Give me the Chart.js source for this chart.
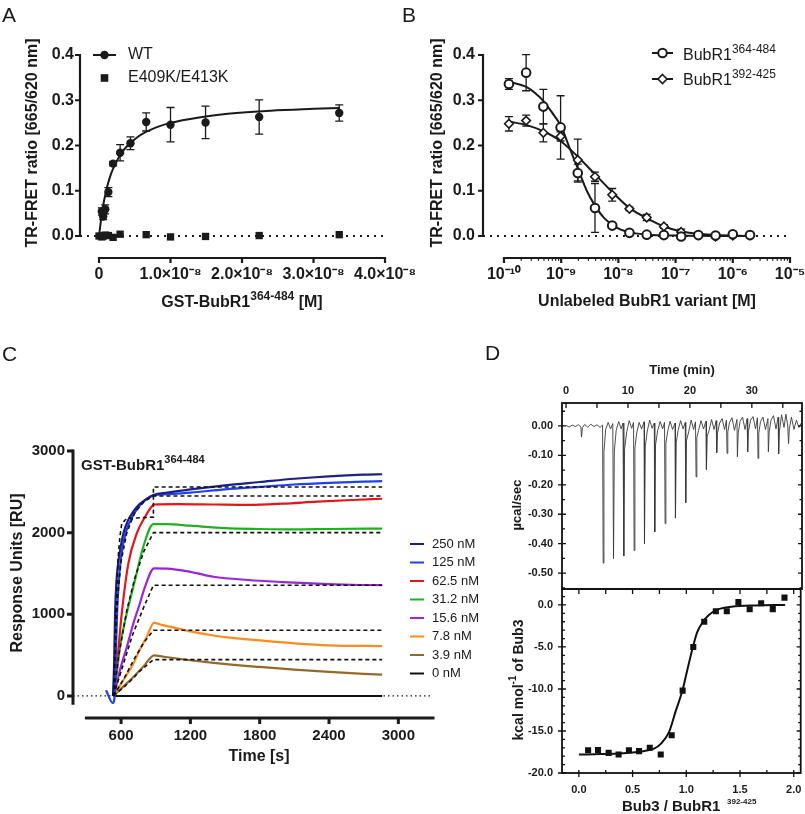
<!DOCTYPE html>
<html>
<head>
<meta charset="utf-8">
<script src="https://cdn.jsdelivr.net/npm/chart.js@4.4.0/dist/chart.umd.min.js"></script>
<style>
body { margin: 0; background: #fff; }
#wrap { position: relative; width: 805px; height: 814px; }
canvas { position: absolute; left: 0; top: 0; }
</style>
</head>
<body>
<div id="wrap">
<canvas id="cA" width="805" height="814"></canvas>
<canvas id="cB" width="805" height="814"></canvas>
<canvas id="cC" width="805" height="814"></canvas>
<canvas id="cD1" width="805" height="814"></canvas>
<canvas id="cD2" width="805" height="814"></canvas>
</div>
<script>
// ---------- panel A : TR-FRET titration ----------
var wtConc   = [0.39e-9, 0.58e-9, 0.87e-9, 1.31e-9, 1.97e-9, 2.95e-9, 4.4e-9, 6.6e-9, 1.0e-8, 1.49e-8, 2.24e-8, 3.36e-8];
var wtRatio  = [0.054, 0.043, 0.059, 0.097, 0.160, 0.184, 0.205, 0.252, 0.246, 0.251, 0.263, 0.272];
var wtSd     = [0.008, 0.007, 0.010, 0.010, 0.005, 0.018, 0.014, 0.020, 0.038, 0.036, 0.038, 0.018];
var mutConc  = [0, 0.39e-9, 0.58e-9, 0.87e-9, 1.31e-9, 1.97e-9, 2.95e-9, 6.6e-9, 1.0e-8, 1.49e-8, 2.24e-8, 3.36e-8];
var mutRatio = [0.0, -0.002, 0.0, 0.002, 0.001, -0.003, 0.004, 0.003, -0.002, -0.001, 0.001, 0.003];
var fitAx    = [0, 0.25e-9, 0.5e-9, 1e-9, 1.5e-9, 2e-9, 3e-9, 4e-9, 5e-9, 6e-9, 8e-9, 1e-8, 1.4e-8, 1.8e-8, 2.4e-8, 3.0e-8, 3.36e-8];
var fitAy    = [0, 0.032, 0.060, 0.100, 0.129, 0.150, 0.180, 0.200, 0.214, 0.225, 0.240, 0.250, 0.262, 0.270, 0.277, 0.281, 0.283];
var xTicksA  = [0, 1e-8, 2e-8, 3e-8, 4e-8];
var xLabelsA = ['0', '1.0×10⁻⁸', '2.0×10⁻⁸', '3.0×10⁻⁸', '4.0×10⁻⁸'];
var yTicksAB = [0, 0.1, 0.2, 0.3, 0.4];
var yLabelsAB = ['0.0', '0.1', '0.2', '0.3', '0.4'];

// ---------- panel B : competition ----------
var bConc     = [1.22e-10, 2.44e-10, 4.88e-10, 9.77e-10, 1.95e-9, 3.9e-9, 7.8e-9, 1.56e-8, 3.13e-8, 6.25e-8, 1.25e-7, 2.5e-7, 5e-7, 1e-6, 2e-6];
var long364   = [0.336, 0.361, 0.286, 0.240, 0.139, 0.062, 0.023, 0.007, 0.003, 0.002, -0.001, 0.002, 0.001, 0.004, 0.002];
var long364Sd = [0.012, 0.040, 0.038, 0.070, 0.020, 0.054, 0.004, 0.003, 0.002, 0.002, 0.006, 0.003, 0.002, 0.003, 0.002];
var short392  = [0.248, 0.255, 0.228, 0.220, 0.168, 0.131, 0.091, 0.060, 0.041, 0.021, 0.009, 0.002, -0.001, 0.001, 0.002];
var short392Sd = [0.016, 0.012, 0.020, 0.010, 0.046, 0.010, 0.014, 0.004, 0.007, 0.004, 0.006, 0.002, 0.002, 0.002, 0.002];
var fitLongX  = [1.22e-10, 2.5e-10, 3.5e-10, 5e-10, 7e-10, 1e-9, 1.4e-9, 2e-9, 2.8e-9, 4e-9, 5.6e-9, 8e-9, 1.1e-8, 1.6e-8, 3.2e-8, 1e-7, 2e-6];
var fitLongY  = [0.341, 0.329, 0.316, 0.297, 0.272, 0.242, 0.195, 0.146, 0.100, 0.065, 0.040, 0.024, 0.014, 0.008, 0.003, 0.001, 0.0];
var fitShortX = [1.22e-10, 2.5e-10, 5e-10, 1e-9, 2e-9, 4e-9, 8e-9, 1.6e-8, 3.2e-8, 6.3e-8, 1.26e-7, 2.5e-7, 5e-7, 2e-6];
var fitShortY = [0.253, 0.245, 0.231, 0.209, 0.174, 0.135, 0.096, 0.061, 0.039, 0.021, 0.010, 0.005, 0.002, 0.0];
var xTicksB   = [1e-10, 1e-9, 1e-8, 1e-7, 1e-6, 1e-5];
var xLabelsB  = ['10⁻¹⁰', '10⁻⁹', '10⁻⁸', '10⁻⁷', '10⁻⁶', '10⁻⁵'];

// ---------- panel C : SPR sensorgrams [time s, RU] ----------
var spr250 = [[530,0],[540,400],[548,1000],[560,1400],[577,1650],[600,1850],[620,1990],[660,2150],[707,2260],[760,2350],[808,2400],[880,2460],[1000,2490],[1200,2530],[1500,2580],[1800,2620],[2100,2660],[2400,2690],[2700,2710],[2860,2715]];
var spr125 = [[470,70],[528,-85],[545,0],[555,500],[565,1000],[580,1400],[600,1700],[640,2000],[700,2200],[760,2330],[820,2410],[880,2455],[1000,2470],[1200,2490],[1500,2530],[1800,2560],[2100,2590],[2400,2610],[2700,2625],[2860,2630]];
var spr62  = [[534,0],[545,150],[563,360],[606,1010],[663,1620],[736,1990],[808,2195],[875,2335],[885,2345],[1100,2350],[1400,2345],[1700,2340],[2000,2355],[2300,2380],[2600,2400],[2860,2415]];
var spr31  = [[534,0],[560,250],[591,600],[649,1010],[721,1420],[793,1830],[880,2105],[1000,2105],[1200,2085],[1500,2055],[1800,2045],[2100,2040],[2400,2045],[2860,2050]];
var spr15  = [[534,0],[560,130],[591,320],[650,600],[707,890],[760,1120],[808,1340],[886,1563],[1000,1560],[1200,1520],[1400,1460],[1700,1420],[2000,1395],[2300,1375],[2600,1362],[2860,1358]];
var spr7   = [[534,0],[600,150],[650,260],[707,396],[760,560],[820,720],[886,894],[950,870],[1050,840],[1200,790],[1400,740],[1600,705],[1800,680],[2100,645],[2400,620],[2860,610]];
var spr3   = [[534,0],[600,90],[707,233],[800,370],[886,498],[950,485],[1050,465],[1200,437],[1400,405],[1600,378],[1800,355],[2100,323],[2400,294],[2700,270],[2860,261]];
var spr0   = [[534,0],[2860,0]];
var fit250 = [[534,0],[545,500],[560,1200],[575,1700],[590,1950],[606,2110],[649,2175],[880,2190],[880,2560],[2860,2560]];
var fit125 = [[534,0],[550,600],[570,1200],[600,1650],[650,2000],[720,2250],[800,2380],[880,2449],[2860,2449]];
var fit31  = [[534,0],[580,500],[650,1050],[720,1450],[800,1780],[880,2000],[2860,2000]];
var fit15  = [[534,0],[600,300],[700,750],[800,1100],[880,1355],[2860,1355]];
var fit7   = [[534,0],[620,200],[720,470],[800,660],[880,804],[2860,804]];
var fit3   = [[534,0],[650,140],[760,300],[880,445],[2860,445]];
var concLabels = ['250 nM', '125 nM', '62.5 nM', '31.2 nM', '15.6 nM', '7.8 nM', '3.9 nM', '0 nM'];
var concColors = ['#1b1f8a', '#1f3ff0', '#e3161b', '#22b022', '#9b25d9', '#ff8c1a', '#946a2c', '#111111'];
var xTicksC  = [600, 1200, 1800, 2400, 3000];
var xLabelsC = ['600', '1200', '1800', '2400', '3000'];
var yTicksC  = [0, 1000, 2000, 3000];
var yLabelsC = ['0', '1000', '2000', '3000'];

// ---------- panel D : ITC [min, ucal/s] ----------
var itcRaw = [[0,0.002],[0.5,-0.004],[1,0.003],[1.5,-0.002],[2,0.004],[2.4,-0.003],[2.5,-0.038],[2.65,-0.006],[3,0.005],[3.5,-0.004],[4,0.006],[4.5,-0.002],[5,0.004],[5.5,-0.005],[5.9,0.003],
 [6.0,-0.466],[6.12,-0.09],[6.4,-0.012],[6.8,0.012],[7.2,-0.01],[7.55,0.008],
 [7.67,-0.451],[7.8,-0.085],[8.1,-0.015],[8.5,0.015],[8.9,-0.01],[9.2,0.01],
 [9.33,-0.442],[9.45,-0.08],[9.8,-0.02],[10.2,0.018],[10.6,-0.008],[10.9,0.012],
 [11.0,-0.423],[11.12,-0.075],[11.4,-0.025],[11.8,0.012],[12.2,-0.01],[12.6,0.014],
 [12.67,-0.40],[12.8,-0.07],[13.1,-0.02],[13.5,0.02],[13.9,-0.008],[14.25,0.01],
 [14.33,-0.36],[14.45,-0.065],[14.8,-0.015],[15.2,0.015],[15.6,-0.01],[15.9,0.012],
 [16.0,-0.332],[16.12,-0.06],[16.4,-0.02],[16.8,0.016],[17.2,-0.012],[17.6,0.01],
 [17.67,-0.313],[17.8,-0.055],[18.1,-0.015],[18.5,0.018],[18.9,-0.01],[19.25,0.012],
 [19.33,-0.261],[19.45,-0.05],[19.8,-0.02],[20.2,0.02],[20.6,-0.012],[20.9,0.014],
 [21.0,-0.173],[21.12,-0.04],[21.4,-0.015],[21.8,0.018],[22.2,-0.01],[22.6,0.016],
 [22.67,-0.148],[22.8,-0.035],[23.1,-0.015],[23.5,0.022],[23.9,-0.012],[24.25,0.018],
 [24.33,-0.091],[24.45,-0.025],[24.8,0.01],[25.2,0.025],[25.6,-0.012],[25.9,0.02],
 [26.0,-0.093],[26.12,-0.02],[26.4,0.012],[26.8,0.028],[27.2,-0.015],[27.6,0.022],
 [27.67,-0.105],[27.8,-0.025],[28.1,0.015],[28.5,0.03],[28.9,-0.012],[29.25,0.025],
 [29.33,-0.088],[29.45,-0.02],[29.8,0.02],[30.2,0.032],[30.6,-0.01],[30.9,0.028],
 [31.0,-0.11],[31.12,-0.025],[31.4,0.015],[31.8,0.03],[32.2,-0.012],[32.6,0.025],
 [32.67,-0.088],[32.8,-0.02],[33.1,0.02],[33.5,0.035],[33.9,-0.01],[34.25,0.03],
 [34.33,-0.095],[34.45,-0.02],[34.8,0.038],[35.2,-0.005],[35.5,0.04],[35.8,0.0],
 [35.93,-0.06],[36.05,-0.01],[36.4,0.03],[36.8,-0.012],[37.2,0.02],[37.6,-0.005],[38,0.01]];
var ratioD = [0.086, 0.178, 0.277, 0.37, 0.466, 0.56, 0.66, 0.762, 0.864, 0.966, 1.065, 1.167, 1.275, 1.377, 1.485, 1.59, 1.697, 1.805, 1.914];
var heatD  = [-17.3, -17.26, -17.6, -17.8, -17.3, -17.4, -17.0, -17.8, -15.5, -10.2, -5.0, -2.0, -0.75, -0.75, 0.36, -0.52, 0.2, -0.5, 0.87];
var fitDx  = [0, 0.2, 0.4, 0.6, 0.7, 0.765, 0.84, 0.9, 0.966, 1.01, 1.06, 1.1, 1.15, 1.21, 1.3, 1.42, 1.64, 1.92];
var fitDy  = [-17.8, -17.75, -17.65, -17.4, -17.1, -16.5, -15.1, -12.7, -10.1, -7.7, -5.1, -3.3, -2.1, -1.2, -0.5, -0.2, -0.05, 0.0];
var xTicksD1 = [0, 10, 20, 30];
var xLabelsD1 = ['0', '10', '20', '30'];
var yTicksD1 = [0, -0.1, -0.2, -0.3, -0.4, -0.5];
var yLabelsD1 = ['0.00', '-0.10', '-0.20', '-0.30', '-0.40', '-0.50'];
var xTicksD2 = [0, 0.5, 1.0, 1.5, 2.0];
var xLabelsD2 = ['0.0', '0.5', '1.0', '1.5', '2.0'];
var yTicksD2 = [0, -5, -10, -15, -20];
var yLabelsD2 = ['0.0', '-5.0', '-10.0', '-15.0', '-20.0'];

var FONT = 'Arial, "Liberation Sans", Helvetica, sans-serif';
var INK = '#1a1a1a';

function xy(xs, ys) { return xs.map(function (x, i) { return { x: x, y: ys[i] }; }); }
function pairs(p) { return p.map(function (q) { return { x: q[0], y: q[1] }; }); }

function axis(o) {
    return {
        type: o.type || 'linear', position: o.position, min: o.min, max: o.max,
        grid: { display: false, drawTicks: false }, border: { display: false },
        afterBuildTicks: function (s) { s.ticks = o.ticks.map(function (v) { return { value: v }; }); },
        afterFit: function (s) {
            if (s.isHorizontal()) s.height = o.size; else s.width = o.size;
            s.paddingLeft = 0; s.paddingRight = 0; s.paddingTop = 0; s.paddingBottom = 0;
        },
        ticks: {
            padding: o.pad, autoSkip: false, maxRotation: 0, minRotation: 0, color: INK,
            font: { family: FONT, size: o.fs, weight: 'bold' },
            callback: function (v, i) { return o.labels[i]; }
        }
    };
}

// GraphPad style detached axes
var gpAxes = {
    id: 'gpAxes',
    afterDraw: function (chart, args, o) {
        if (!o.on) return;
        var ctx = chart.ctx, a = chart.chartArea, x = chart.scales.x, y = chart.scales.y;
        ctx.save();
        ctx.strokeStyle = INK; ctx.lineWidth = o.lw; ctx.lineCap = 'square';
        ctx.beginPath();
        ctx.moveTo(a.left, y.getPixelForValue(o.yFrom)); ctx.lineTo(a.left, y.getPixelForValue(o.yTo));
        ctx.moveTo(x.getPixelForValue(o.xFrom), a.bottom); ctx.lineTo(x.getPixelForValue(o.xTo), a.bottom);
        ctx.stroke();
        ctx.lineCap = 'butt';
        ctx.beginPath();
        o.yTicks.forEach(function (v) { var p = y.getPixelForValue(v); ctx.moveTo(a.left, p); ctx.lineTo(a.left - o.tl, p); });
        o.xTicks.forEach(function (v) { var p = x.getPixelForValue(v); ctx.moveTo(p, a.bottom); ctx.lineTo(p, a.bottom + o.tl); });
        ctx.stroke();
        if (o.xMinor) {
            ctx.lineWidth = 1.2;
            ctx.beginPath();
            o.xMinor.forEach(function (v) { var p = x.getPixelForValue(v); ctx.moveTo(p, a.bottom); ctx.lineTo(p, a.bottom + o.tl * 0.55); });
            ctx.stroke();
        }
        ctx.restore();
    }
};

var errBars = {
    id: 'errBars',
    beforeDatasetsDraw: function (chart) {
        var ctx = chart.ctx, x = chart.scales.x, y = chart.scales.y;
        chart.data.datasets.forEach(function (ds) {
            if (!ds.err) return;
            ctx.save();
            ctx.strokeStyle = INK; ctx.lineWidth = 1.3;
            ds.data.forEach(function (p, i) {
                var e = ds.err[i];
                if (!e) return;
                var px = x.getPixelForValue(p.x), y1 = y.getPixelForValue(p.y - e), y2 = y.getPixelForValue(p.y + e);
                ctx.beginPath();
                ctx.moveTo(px, y1); ctx.lineTo(px, y2);
                ctx.moveTo(px - 4, y1); ctx.lineTo(px + 4, y1);
                ctx.moveTo(px - 4, y2); ctx.lineTo(px + 4, y2);
                ctx.stroke();
            });
            ctx.restore();
        });
    }
};

// Origin style framed box with ticks
var frameBox = {
    id: 'frameBox',
    afterDraw: function (chart, args, o) {
        if (!o.on) return;
        var ctx = chart.ctx, a = chart.chartArea, x = chart.scales.x, y = chart.scales.y;
        ctx.save();
        ctx.strokeStyle = '#111'; ctx.lineWidth = 1.8;
        ctx.strokeRect(a.left, a.top, a.right - a.left, a.bottom - a.top);
        ctx.lineWidth = 1.3;
        ctx.beginPath();
        o.topTicks.forEach(function (v) { var p = x.getPixelForValue(v); ctx.moveTo(p, a.top); ctx.lineTo(p, a.top + 5); });
        (o.bottomOut || []).forEach(function (v) { var p = x.getPixelForValue(v); ctx.moveTo(p, a.bottom); ctx.lineTo(p, a.bottom + 4); });
        (o.bottomIn || []).forEach(function (v) { var p = x.getPixelForValue(v); ctx.moveTo(p, a.bottom); ctx.lineTo(p, a.bottom - 3); });
        o.yMajor.forEach(function (v) {
            var p = y.getPixelForValue(v);
            ctx.moveTo(a.left - 4, p); ctx.lineTo(a.left + 4, p);
            ctx.moveTo(a.right, p); ctx.lineTo(a.right - 4, p);
        });
        o.yMinor.forEach(function (v) {
            var p = y.getPixelForValue(v);
            ctx.moveTo(a.left, p); ctx.lineTo(a.left + 3, p);
            ctx.moveTo(a.right, p); ctx.lineTo(a.right - 2.5, p);
        });
        ctx.stroke();
        ctx.restore();
    }
};

function drawRich(ctx, t) {
    var w = 0, size = t.size, sub = Math.round(size * (t.supScale || 0.72));
    var wt = t.weight || 'normal', fam = t.family || FONT;
    var fN = wt + ' ' + size + 'px ' + fam, fS = wt + ' ' + sub + 'px ' + fam;
    ctx.save();
    ctx.translate(t.x, t.y);
    if (t.rot) ctx.rotate(-Math.PI / 2);
    t.parts.forEach(function (p) { ctx.font = p[1] ? fS : fN; w += ctx.measureText(p[0]).width; });
    var x = t.align === 'center' ? -w / 2 : (t.align === 'right' ? -w : 0);
    ctx.textBaseline = 'middle';
    ctx.fillStyle = t.color || INK;
    t.parts.forEach(function (p) {
        ctx.font = p[1] ? fS : fN;
        ctx.fillText(p[0], x, p[1] ? -size * 0.38 : 0);
        x += ctx.measureText(p[0]).width;
    });
    ctx.restore();
}

var annot = {
    id: 'annot',
    afterDraw: function (chart, args, o) {
        var ctx = chart.ctx;
        (o.swatches || []).forEach(function (s) {
            ctx.save();
            if (s.line) {
                ctx.strokeStyle = s.color || INK; ctx.lineWidth = s.lw || 2;
                ctx.beginPath(); ctx.moveTo(s.line[0], s.line[2]); ctx.lineTo(s.line[1], s.line[2]); ctx.stroke();
            } else {
                ctx.fillStyle = s.fill; ctx.strokeStyle = INK; ctx.lineWidth = s.lw || 0;
                ctx.beginPath();
                if (s.pt === 'circle') ctx.arc(s.x, s.y, s.r, 0, Math.PI * 2);
                else if (s.pt === 'rect') ctx.rect(s.x - s.r, s.y - s.r, 2 * s.r, 2 * s.r);
                else { ctx.moveTo(s.x, s.y - s.r); ctx.lineTo(s.x + s.r, s.y); ctx.lineTo(s.x, s.y + s.r); ctx.lineTo(s.x - s.r, s.y); ctx.closePath(); }
                ctx.fill();
                if (s.lw) ctx.stroke();
            }
            ctx.restore();
        });
        (o.texts || []).forEach(function (t) { drawRich(ctx, t); });
    }
};

function baseOptions(pad, scales, extra) {
    var plugins = { legend: { display: false }, tooltip: { enabled: false } };
    for (var k in extra) plugins[k] = extra[k];
    return { responsive: false, animation: false, events: [], layout: { padding: pad }, scales: scales, plugins: plugins };
}

function lineDs(data, color, width, order, extra) {
    var d = { type: 'scatter', data: data, showLine: true, borderColor: color, borderWidth: width, pointRadius: 0, fill: false, order: order };
    for (var k in extra) d[k] = extra[k];
    return d;
}

// ---------------- chart A ----------------
var xMinA = -2.66e-9;
new Chart(document.getElementById('cA'), {
    type: 'scatter',
    data: { datasets: [
        { data: xy(wtConc, wtRatio), err: wtSd, pointStyle: 'circle', pointRadius: 4.2, backgroundColor: INK, borderColor: INK, borderWidth: 0, order: 1 },
        { data: xy(mutConc, mutRatio), pointStyle: 'rect', pointRadius: 5.2, backgroundColor: INK, borderColor: INK, borderWidth: 0, order: 2 },
        lineDs(xy(fitAx, fitAy), INK, 2, 3, { cubicInterpolationMode: 'monotone' }),
        lineDs(xy([xMinA, 4e-8], [0, 0]), INK, 2, 5, { borderDash: [2, 5] })
    ] },
    options: baseOptions({ left: 80 - 60, top: 55, right: 805 - 385, bottom: 814 - 258 - 30 }, {
        x: axis({ position: 'bottom', min: xMinA, max: 4e-8, ticks: xTicksA, labels: xLabelsA, size: 30, pad: 7, fs: 16 }),
        y: axis({ position: 'left', min: -0.0486, max: 0.4, ticks: yTicksAB, labels: yLabelsAB, size: 60, pad: 6, fs: 16 })
    }, {
        gpAxes: { on: true, lw: 2.2, tl: 5, yFrom: 0, yTo: 0.4, xFrom: 0, xTo: 4e-8, yTicks: yTicksAB, xTicks: xTicksA },
        annot: {
            texts: [
                { x: 2, y: 16, parts: [['A']], size: 21 },
                { x: 33, y: 143, parts: [['TR-FRET ratio [665/620 nm]']], size: 16, weight: 'bold', rot: true, align: 'center' },
                { x: 242, y: 303, parts: [['GST-BubR1'], ['364-484', 1], [' [M]']], size: 16, weight: 'bold', align: 'center' },
                { x: 128, y: 55, parts: [['WT']], size: 16 },
                { x: 128, y: 78, parts: [['E409K/E413K']], size: 16 }
            ],
            swatches: [
                { line: [93, 116, 55], lw: 2 },
                { pt: 'circle', x: 104.5, y: 55, r: 4.2, fill: INK },
                { pt: 'rect', x: 104.5, y: 78, r: 3.8, fill: INK }
            ]
        }
    }),
    plugins: [errBars, gpAxes, annot]
});

// ---------------- chart B ----------------
var xMinB = 4.3e-11;
var minorB = [];
xTicksB.slice(0, 5).forEach(function (d) { for (var m = 2; m <= 9; m++) minorB.push(d * m); });
new Chart(document.getElementById('cB'), {
    type: 'scatter',
    data: { datasets: [
        { data: xy(bConc, long364), err: long364Sd, pointStyle: 'circle', pointRadius: 4.3, backgroundColor: '#fff', borderColor: INK, borderWidth: 2, order: 1 },
        { data: xy(bConc, short392), err: short392Sd, pointStyle: 'rectRot', pointRadius: 4.3, backgroundColor: '#fff', borderColor: INK, borderWidth: 1.6, order: 2 },
        lineDs(xy(fitLongX, fitLongY), INK, 2, 3, { cubicInterpolationMode: 'monotone' }),
        lineDs(xy(fitShortX, fitShortY), INK, 2, 4, { cubicInterpolationMode: 'monotone' }),
        lineDs(xy([xMinB, 1e-5], [0, 0]), INK, 2, 6, { borderDash: [2, 5] })
    ] },
    options: baseOptions({ left: 483 - 60, top: 55, right: 805 - 790, bottom: 814 - 258 - 30 }, {
        x: axis({ type: 'logarithmic', position: 'bottom', min: xMinB, max: 1e-5, ticks: xTicksB, labels: xLabelsB, size: 30, pad: 7, fs: 16 }),
        y: axis({ position: 'left', min: -0.0486, max: 0.4, ticks: yTicksAB, labels: yLabelsAB, size: 60, pad: 8, fs: 16 })
    }, {
        gpAxes: { on: true, lw: 2.2, tl: 5, yFrom: 0, yTo: 0.4, xFrom: 1e-10, xTo: 1e-5, yTicks: yTicksAB, xTicks: xTicksB, xMinor: minorB },
        annot: {
            texts: [
                { x: 402, y: 16, parts: [['B']], size: 21 },
                { x: 438, y: 143, parts: [['TR-FRET ratio [665/620 nm]']], size: 16, weight: 'bold', rot: true, align: 'center' },
                { x: 647, y: 302, parts: [['Unlabeled BubR1 variant [M]']], size: 16, weight: 'bold', align: 'center' },
                { x: 683, y: 56, parts: [['BubR1'], ['364-484', 1]], size: 16 },
                { x: 683, y: 81, parts: [['BubR1'], ['392-425', 1]], size: 16 }
            ],
            swatches: [
                { line: [652, 673, 53], lw: 2 },
                { pt: 'circle', x: 662.5, y: 53, r: 4.3, fill: '#fff', lw: 2 },
                { line: [652, 673, 79], lw: 2 },
                { pt: 'diamond', x: 662.5, y: 79, r: 4.5, fill: '#fff', lw: 1.6 }
            ]
        }
    }),
    plugins: [errBars, gpAxes, annot]
});

// ---------------- chart C ----------------
var sprSeries = [spr250, spr125, spr62, spr31, spr15, spr7, spr3];
var fitSeries = [fit250, fit125, fit31, fit15, fit7, fit3];
var dsC = [];
fitSeries.forEach(function (f) { dsC.push(lineDs(pairs(f), '#111', 1.6, 1, { borderDash: [4, 3] })); });
sprSeries.forEach(function (s, i) { dsC.push(lineDs(pairs(s), concColors[i], 2.2, 2 + i * 0.1, { cubicInterpolationMode: 'monotone' })); });
dsC.push(lineDs(pairs(spr0), concColors[7], 2, 3));
dsC.push(lineDs(xy([184, 3300], [0, 0]), INK, 1.2, 4, { borderDash: [1.5, 3] }));
var legendC = [];
concLabels.forEach(function (l, i) {
    legendC.push({ x: 432, y: 544 + i * 18.5, parts: [[l]], size: 13, family: '"Liberation Sans Narrow", "Arial Narrow", Arial, sans-serif' });
});
var swC = concColors.map(function (c, i) { return { line: [410, 424, 544 + i * 18.5], lw: 2, color: c }; });
new Chart(document.getElementById('cC'), {
    type: 'scatter',
    data: { datasets: dsC },
    options: baseOptions({ left: 73 - 60, top: 451, right: 805 - 433, bottom: 814 - 718 - 30 }, {
        x: axis({ position: 'bottom', min: 184, max: 3300, ticks: xTicksC, labels: xLabelsC, size: 30, pad: 9, fs: 15 }),
        y: axis({ position: 'left', min: -270, max: 3000, ticks: yTicksC, labels: yLabelsC, size: 60, pad: 8, fs: 15 })
    }, {
        gpAxes: { on: true, lw: 3, tl: 6, yFrom: -90, yTo: 3000, xFrom: 300, xTo: 3300, yTicks: yTicksC, xTicks: xTicksC },
        annot: {
            texts: [
                { x: 2, y: 355, parts: [['C']], size: 21 },
                { x: 18, y: 573, parts: [['Response Units [RU]']], size: 16, weight: 'bold', rot: true, align: 'center' },
                { x: 259, y: 757, parts: [['Time [s]']], size: 16, weight: 'bold', align: 'center' },
                { x: 81, y: 466, parts: [['GST-BubR1'], ['364-484', 1]], size: 15, weight: 'bold' }
            ].concat(legendC),
            swatches: swC
        }
    }),
    plugins: [gpAxes, annot]
});

// ---------------- chart D (top: raw ITC) ----------------
var minorD1 = [];
for (var v = 0.05; v >= -0.55; v -= 0.05) minorD1.push(v);
new Chart(document.getElementById('cD1'), {
    type: 'scatter',
    data: { datasets: [lineDs(pairs(itcRaw), '#3a3a3a', 0.9, 1)] },
    options: baseOptions({ left: 562 - 50, top: 403 - 30, right: 805 - 802, bottom: 814 - 589 }, {
        x: axis({ position: 'top', min: -0.65, max: 38.1, ticks: xTicksD1, labels: xLabelsD1, size: 30, pad: 5, fs: 11 }),
        y: axis({ position: 'left', min: -0.554, max: 0.078, ticks: yTicksD1, labels: yLabelsD1, size: 50, pad: 9, fs: 11 })
    }, {
        frameBox: { on: true, topTicks: [0, 5, 10, 15, 20, 25, 30, 35], yMajor: yTicksD1, yMinor: minorD1 },
        annot: {
            texts: [
                { x: 485, y: 354, parts: [['D']], size: 21 },
                { x: 682, y: 370, parts: [['Time (min)']], size: 13, weight: 'bold', align: 'center' },
                { x: 517, y: 505, parts: [['µcal/sec']], size: 13, weight: 'bold', rot: true, align: 'center' }
            ]
        }
    }),
    plugins: [frameBox, annot]
});

// ---------------- chart D (bottom: binding isotherm) ----------------
var minorD2 = [], quarterD2 = [];
for (var k = 1; k >= -20; k--) minorD2.push(k);
for (var q = 0; q <= 2.0001; q += 0.25) quarterD2.push(q);
new Chart(document.getElementById('cD2'), {
    type: 'scatter',
    data: { datasets: [
        { data: xy(ratioD, heatD), pointStyle: 'rect', pointRadius: 4.3, backgroundColor: '#111', borderColor: '#111', borderWidth: 0, order: 1 },
        lineDs(xy(fitDx, fitDy), '#111', 2, 2, { cubicInterpolationMode: 'monotone' })
    ] },
    options: baseOptions({ left: 562 - 50, top: 589, right: 805 - 802, bottom: 814 - 773 - 30 }, {
        x: axis({ position: 'bottom', min: -0.157, max: 2.065, ticks: xTicksD2, labels: xLabelsD2, size: 30, pad: 10, fs: 11 }),
        y: axis({ position: 'left', min: -20, max: 1.9, ticks: yTicksD2, labels: yLabelsD2, size: 50, pad: 9, fs: 11 })
    }, {
        frameBox: { on: true, topTicks: quarterD2, bottomOut: xTicksD2, bottomIn: quarterD2, yMajor: yTicksD2, yMinor: minorD2 },
        annot: {
            texts: [
                { x: 519, y: 680, parts: [['kcal mol'], ['-1', 1], [' of Bub3']], size: 14, weight: 'bold', rot: true, align: 'center' },
                { x: 622, y: 807, parts: [['Bub3 / BubR1'], ['   392-425', 1]], size: 15, weight: 'bold', supScale: 0.55 }
            ]
        }
    }),
    plugins: [frameBox, annot]
});
</script>
</body>
</html>
